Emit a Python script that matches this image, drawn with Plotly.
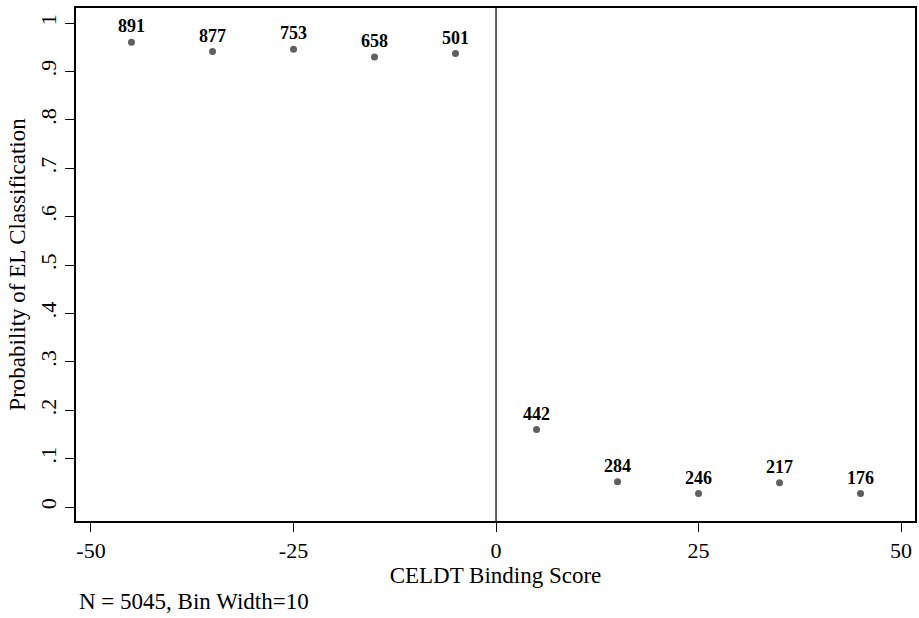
import plotly.graph_objects as go

# Binned CELDT scores (bin centres), share classified EL, and bin counts
bin_centers = [-45, -35, -25, -15, -5, 5, 15, 25, 35, 45]
prob_el = [0.960, 0.941, 0.946, 0.930, 0.937, 0.160, 0.052, 0.028, 0.050, 0.028]
bin_counts = [891, 877, 753, 658, 501, 442, 284, 246, 217, 176]

x_ticks = [-50, -25, 0, 25, 50]
y_ticks = [0, 0.1, 0.2, 0.3, 0.4, 0.5, 0.6, 0.7, 0.8, 0.9, 1.0]
y_tick_labels = ["0", ".1", ".2", ".3", ".4", ".5", ".6", ".7", ".8", ".9", "1"]

serif = "Liberation Serif"

fig = go.Figure()
fig.add_trace(go.Scatter(
    x=bin_centers,
    y=prob_el,
    mode="markers+text",
    text=[str(c) for c in bin_counts],
    textposition="top center",
    textfont=dict(family=serif, size=18, color="#000000", weight="bold"),
    marker=dict(color="#606060", size=7),
    showlegend=False,
    hoverinfo="skip",
))

# cutoff line at zero
fig.add_shape(type="line", xref="x", yref="paper", x0=0, x1=0, y0=0, y1=1,
              line=dict(color="#303030", width=1.5))

fig.update_layout(
    width=919, height=618,
    margin=dict(l=76, r=2, t=8, b=97),
    paper_bgcolor="white", plot_bgcolor="white",
    font=dict(family=serif, color="#000000"),
    xaxis=dict(
        range=[-51.85, 51.72],
        tickvals=x_ticks, ticktext=[str(v) for v in x_ticks],
        ticks="outside", ticklen=9, tickcolor="#000", tickwidth=1.3,
        tickfont=dict(family=serif, size=22),
        showgrid=False, zeroline=False,
        showline=True, linecolor="#000", linewidth=1.5, mirror=True,
        title=dict(text="CELDT Binding Score", font=dict(family=serif, size=23), standoff=0),
    ),
    yaxis=dict(
        range=[-0.0289, 1.031],
        tickvals=y_ticks, ticktext=y_tick_labels, tickangle=-90,
        ticks="outside", ticklen=9, tickcolor="#000", tickwidth=1.3,
        tickfont=dict(family=serif, size=22),
        showgrid=False, zeroline=False,
        showline=True, linecolor="#000", linewidth=1.5, mirror=True,
        title=dict(text="Probability of EL Classification", font=dict(family=serif, size=23), standoff=4),
    ),
    annotations=[dict(
        text="N = 5045, Bin Width=10", xref="paper", yref="paper",
        x=0.0, y=0, xanchor="left", yanchor="middle", yshift=-80, xshift=1,
        showarrow=False, font=dict(family=serif, size=23),
    )],
)

fig.write_html("out.html")
